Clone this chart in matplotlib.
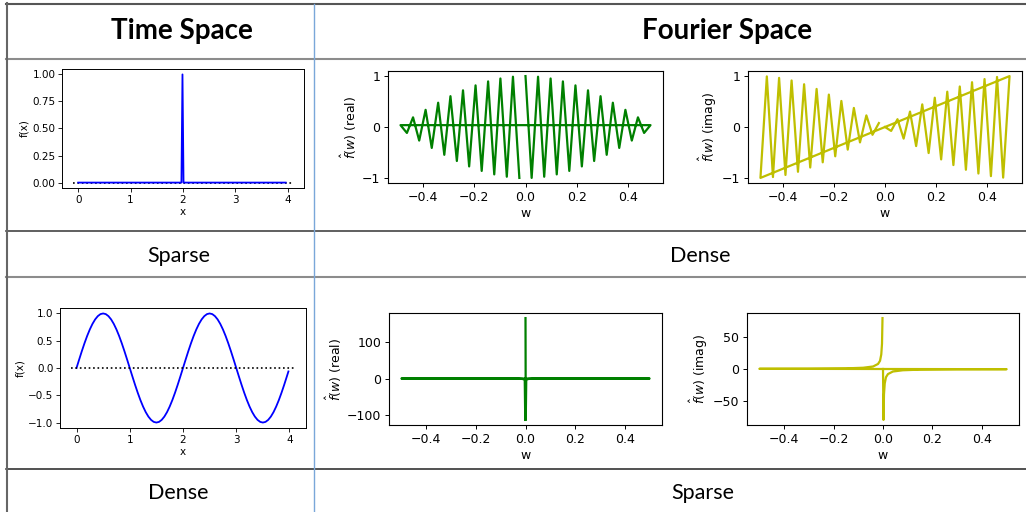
import matplotlib
matplotlib.use("Agg")
import matplotlib.pyplot as plt
from matplotlib.lines import Line2D

W, H = 1026, 512

# ---- data ----
# top row: unit spike in time, its (unshifted) FFT
spike_x = [0.0, 1.97, 1.99, 2.01, 3.96]
spike_f = [0, 0, 1, 0, 0]

freq_41 = [0.000, 0.024, 0.049, 0.073, 0.098, 0.122, 0.146, 0.171, 0.195, 0.220,
           0.244, 0.268, 0.293, 0.317, 0.341, 0.366, 0.390, 0.415, 0.439, 0.463,
           0.488, -0.488, -0.463, -0.439, -0.415, -0.390, -0.366, -0.341, -0.317,
           -0.293, -0.268, -0.244, -0.220, -0.195, -0.171, -0.146, -0.122, -0.098,
           -0.073, -0.049, -0.024]
spike_real = [1.0, -0.997, 0.988, -0.974, 0.953, -0.928, 0.896, -0.860, 0.818, -0.772,
              0.721, -0.665, 0.606, -0.544, 0.478, -0.409, 0.338, -0.265, 0.191, -0.115,
              0.038, 0.038, -0.115, 0.191, -0.265, 0.338, -0.409, 0.478, -0.544,
              0.606, -0.665, 0.721, -0.772, 0.818, -0.860, 0.896, -0.928, 0.953,
              -0.974, 0.988, -0.997]
spike_imag = [0.0, -0.077, 0.153, -0.228, 0.302, -0.374, 0.444, -0.511, 0.575, -0.636,
              0.693, -0.747, 0.795, -0.839, 0.879, -0.913, 0.941, -0.964, 0.982, -0.993,
              0.999, -0.999, 0.993, -0.982, 0.964, -0.941, 0.913, -0.879, 0.839,
              -0.795, 0.747, -0.693, 0.636, -0.575, 0.511, -0.444, 0.374, -0.302,
              0.228, -0.153, 0.077]

# bottom row: sine in time, its FFT (spiky near zero)
sine_x = [0.00, 0.05, 0.10, 0.15, 0.20, 0.25, 0.30, 0.35, 0.40, 0.45,
          0.50, 0.55, 0.60, 0.65, 0.70, 0.75, 0.80, 0.85, 0.90, 0.95,
          1.00, 1.05, 1.10, 1.15, 1.20, 1.25, 1.30, 1.35, 1.40, 1.45,
          1.50, 1.55, 1.60, 1.65, 1.70, 1.75, 1.80, 1.85, 1.90, 1.95,
          2.00, 2.05, 2.10, 2.15, 2.20, 2.25, 2.30, 2.35, 2.40, 2.45,
          2.50, 2.55, 2.60, 2.65, 2.70, 2.75, 2.80, 2.85, 2.90, 2.95,
          3.00, 3.05, 3.10, 3.15, 3.20, 3.25, 3.30, 3.35, 3.40, 3.45,
          3.50, 3.55, 3.60, 3.65, 3.70, 3.75, 3.80, 3.85, 3.90, 3.95, 3.98]
sine_f = [0.0, 0.156, 0.309, 0.454, 0.588, 0.707, 0.809, 0.891, 0.951, 0.988,
          1.0, 0.988, 0.951, 0.891, 0.809, 0.707, 0.588, 0.454, 0.309, 0.156,
          0.0, -0.156, -0.309, -0.454, -0.588, -0.707, -0.809, -0.891, -0.951, -0.988,
          -1.0, -0.988, -0.951, -0.891, -0.809, -0.707, -0.588, -0.454, -0.309, -0.156,
          0.0, 0.156, 0.309, 0.454, 0.588, 0.707, 0.809, 0.891, 0.951, 0.988,
          1.0, 0.988, 0.951, 0.891, 0.809, 0.707, 0.588, 0.454, 0.309, 0.156,
          0.0, -0.156, -0.309, -0.454, -0.588, -0.707, -0.809, -0.891, -0.951, -0.988,
          -1.0, -0.988, -0.951, -0.891, -0.809, -0.707, -0.588, -0.454, -0.309, -0.156,
          -0.063]

sine_real_w = [0.0, 0.001, 0.003, 0.006, 0.012, 0.03, 0.5,
               -0.5, -0.03, -0.012, -0.006, -0.003, -0.001]
sine_real_v = [165, -113, -5, -2.5, -1.2, -0.3, 0,
               0, -0.3, -1.2, -2.5, -5, -113]

sine_imag_w = [0.0, 0.002, 0.004, 0.007, 0.012, 0.02, 0.04, 0.08, 0.15, 0.3, 0.5,
               -0.5, -0.3, -0.15, -0.08, -0.04, -0.02, -0.012, -0.007, -0.004, -0.002]
sine_imag_v = [0, -80.5, -40, -23, -13, -8, -4, -2, -1, -0.5, -0.3,
               0.3, 0.5, 1, 2, 4, 8, 13, 23, 40, 80.5]

# ---- layout helpers (pixel coords, y down) ----
def px_axes(fig, left, top, right, bottom):
    return fig.add_axes([left / W, 1 - bottom / H, (right - left) / W, (bottom - top) / H])

def hline(fig, y, x0, x1, color, lw):
    fig.add_artist(Line2D([x0 / W, x1 / W], [1 - y / H, 1 - y / H],
                          transform=fig.transFigure, color=color, lw=lw))

def vline(fig, x, y0, y1, color, lw):
    fig.add_artist(Line2D([x / W, x / W], [1 - y0 / H, 1 - y1 / H],
                          transform=fig.transFigure, color=color, lw=lw))

def cell_text(fig, x, y, s, size, bold=False):
    fig.text(x / W, 1 - y / H, s, ha='center', va='baseline', fontsize=size,
             fontweight='bold' if bold else 'normal', family=['Lato', 'DejaVu Sans'])

def style_small(ax):
    ax.tick_params(labelsize=7.5, length=2.8, width=0.6, pad=2)
    for s in ax.spines.values():
        s.set_linewidth(0.7)

def style_mid(ax):
    ax.tick_params(labelsize=9, length=3.2, width=0.7, pad=2.5)
    for s in ax.spines.values():
        s.set_linewidth(0.8)


fig = plt.figure(figsize=(W / 100, H / 100), dpi=100)

# time space, top
ax = px_axes(fig, 62, 69, 304, 188)
ax.plot([-0.1, 4.1], [0, 0], 'k:', lw=1.2)
ax.plot(spike_x, spike_f, 'b-', lw=1.3)
ax.set_xticks([0, 1, 2, 3, 4])
ax.set_yticks([0, 0.25, 0.5, 0.75, 1.0])
ax.set_xlabel('x', fontsize=7.5, labelpad=2)
ax.set_ylabel('f(x)', fontsize=7.5, labelpad=2)
style_small(ax)

# fourier space, top
ax = px_axes(fig, 388, 71, 663, 183)
ax.plot(freq_41, spike_real, color='g', lw=1.6)
ax.set_xlabel('w', fontsize=9, labelpad=2)
ax.set_ylabel(r'$\hat{f}(w)$ (real)', fontsize=9, labelpad=2)
style_mid(ax)

ax = px_axes(fig, 748, 71, 1022, 183)
ax.plot(freq_41, spike_imag, color='y', lw=1.6)
ax.set_xlabel('w', fontsize=9, labelpad=2)
ax.set_ylabel(r'$\hat{f}(w)$ (imag)', fontsize=9, labelpad=2)
style_mid(ax)

# time space, bottom
ax = px_axes(fig, 60, 308, 306, 428)
ax.plot(sine_x, sine_f, 'b-', lw=1.3)
ax.plot([-0.1, 4.1], [0, 0], 'k:', lw=1.2)
ax.set_xticks([0, 1, 2, 3, 4])
ax.set_xlabel('x', fontsize=7.5, labelpad=2)
ax.set_ylabel('f(x)', fontsize=7.5, labelpad=2)
style_small(ax)

# fourier space, bottom
ax = px_axes(fig, 389, 313, 662, 425)
ax.plot(sine_real_w, sine_real_v, color='g', lw=1.6)
ax.set_xlabel('w', fontsize=9, labelpad=2)
ax.set_ylabel(r'$\hat{f}(w)$ (real)', fontsize=9, labelpad=2)
style_mid(ax)

ax = px_axes(fig, 747, 313, 1019, 425)
ax.plot(sine_imag_w, sine_imag_v, color='y', lw=1.6)
ax.set_xlabel('w', fontsize=9, labelpad=2)
ax.set_ylabel(r'$\hat{f}(w)$ (imag)', fontsize=9, labelpad=2)
style_mid(ax)

# table grid
hline(fig, 4, 6, W, '#555555', 1.5)
hline(fig, 59, 6, W, '#8c8c8c', 1.5)
hline(fig, 231, 6, W, '#444444', 1.2)
hline(fig, 277, 6, W, '#8c8c8c', 1.5)
hline(fig, 469, 6, W, '#222222', 1.1)
vline(fig, 7, 3, H, '#666666', 1.5)
vline(fig, 313.5, 4, H, '#7aa7d9', 1.0)

# table text
cell_text(fig, 182, 39, 'Time Space', 20, bold=True)
cell_text(fig, 727, 39, 'Fourier Space', 20, bold=True)
cell_text(fig, 179, 262, 'Sparse', 15.5)
cell_text(fig, 700, 262, 'Dense', 15.5)
cell_text(fig, 178, 499, 'Dense', 15.5)
cell_text(fig, 703, 499, 'Sparse', 15.5)

fig.savefig('out.png', dpi=100)
